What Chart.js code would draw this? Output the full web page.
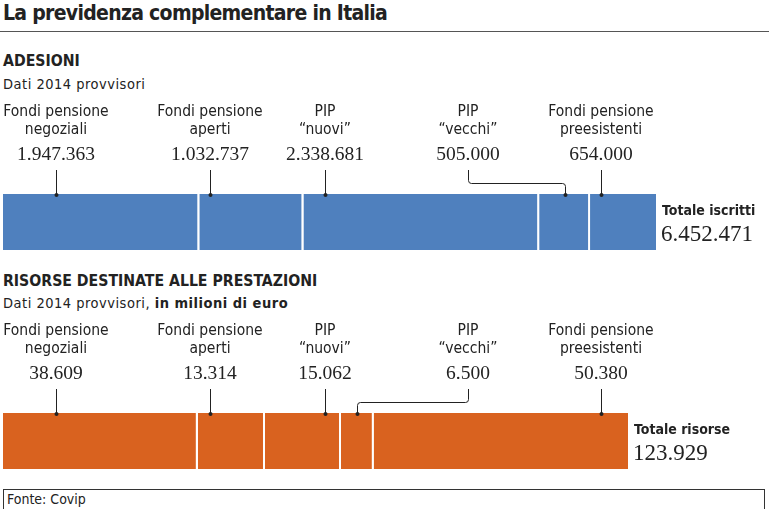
<!DOCTYPE html>
<html>
<head>
<meta charset="utf-8">
<script src="https://cdn.jsdelivr.net/npm/chart.js@4.4.0/dist/chart.umd.min.js"></script>
<style>
  body { margin: 0; background: #fff; width: 769px; height: 509px; overflow: hidden; position: relative; font-family: "DejaVu Sans Condensed", "DejaVu Sans", sans-serif; color: #222; }
  .t { position: absolute; white-space: nowrap; }
  #title { left: 3px; top: 1px; font-size: 21px; font-weight: bold; letter-spacing: -0.7px; }
  #rule { position: absolute; left: 0; top: 31px; width: 769px; height: 1px; background: #555; }
  .sec { font-size: 15.7px; font-weight: bold; }
  .sub { font-size: 14.5px; letter-spacing: 0.5px; }
  .wrap { position: absolute; left: 0; width: 769px; height: 165px; }
  #foot { position: absolute; left: 3px; top: 489px; width: 760px; height: 30px; border: 1px solid #333; }
  #foot span { position: absolute; left: 3px; top: 1px; font-size: 14px; }
</style>
</head>
<body>
<div class="t" id="title">La previdenza complementare in Italia</div>
<div id="rule"></div>
<div class="t sec" style="left:3px;top:51px">ADESIONI</div>
<div class="t sub" style="left:3px;top:76px">Dati 2014 provvisori</div>
<div class="wrap" style="top:95px"><canvas id="adesioni"></canvas></div>
<div class="t sec" style="left:3px;top:271px">RISORSE DESTINATE ALLE PRESTAZIONI</div>
<div class="t sub" style="left:3px;top:295px">Dati 2014 provvisori, <b>in milioni di euro</b></div>
<div class="wrap" style="top:314px"><canvas id="risorse"></canvas></div>
<div id="foot"><span>Fonte: Covip</span></div>
<script>
// ---------- data ----------
const categories = [
    ['Fondi pensione', 'negoziali'],
    ['Fondi pensione', 'aperti'],
    ['PIP', '\u201cnuovi\u201d'],
    ['PIP', '\u201cvecchi\u201d'],
    ['Fondi pensione', 'preesistenti']
];
const adesioniValues = [1947363, 1032737, 2338681, 505000, 654000];
const risorseValues = [38609, 13314, 15062, 6500, 50380];
const totaleIscritti = 6452471;
const totaleRisorse = 123929;

// label columns (pixels)
const columnX = [56, 210, 325, 468, 601];

function fmt(n) {
    return String(n).replace(/\B(?=(\d{3})+(?!\d))/g, '.');
}

const labelPlugin = {
    id: 'labelPlugin',
    afterDatasetsDraw(chart, args, opts) {
        const ctx = chart.ctx;
        const area = chart.chartArea;
        ctx.save();
        ctx.fillStyle = '#222';
        ctx.strokeStyle = '#222';
        ctx.lineWidth = 1;
        ctx.textAlign = 'center';
        ctx.textBaseline = 'middle';
        chart.data.datasets.forEach((ds, i) => {
            const bar = chart.getDatasetMeta(i).data[0];
            const x0 = Math.min(bar.base, bar.x);
            const x1 = Math.max(bar.base, bar.x);
            const cx = columnX[i];
            ctx.font = '15.5px "DejaVu Sans Condensed", sans-serif';
            ctx.fillText(categories[i][0], cx, 17);
            ctx.fillText(categories[i][1], cx, 35);
            ctx.font = '19.5px "Liberation Serif", serif';
            ctx.fillText(fmt(ds.data[0]), cx, 60);

            // leader line: straight if the column falls in the segment, elbow otherwise
            let dotX;
            ctx.beginPath();
            if (cx > x0 + 4 && cx < x1 - 4) {
                dotX = Math.round(cx) + 0.5;
                ctx.moveTo(dotX, 75);
                ctx.lineTo(dotX, area.top);
            } else {
                dotX = Math.round((x0 + x1) / 2) + 0.5;
                const lx = Math.round(cx) + 0.5;
                const ey = 88.5;
                const r = 3;
                const dir = dotX > lx ? 1 : -1;
                ctx.moveTo(lx, 75);
                ctx.lineTo(lx, ey - r);
                ctx.quadraticCurveTo(lx, ey, lx + dir * r, ey);
                ctx.lineTo(dotX - dir * r, ey);
                ctx.quadraticCurveTo(dotX, ey, dotX, ey + r);
                ctx.lineTo(dotX, area.top);
            }
            ctx.stroke();
            ctx.beginPath();
            ctx.arc(dotX, area.top + 1, 2, 0, Math.PI * 2);
            ctx.fill();
        });
        // totale
        ctx.textAlign = 'left';
        ctx.font = 'bold 14px "DejaVu Sans Condensed", sans-serif';
        ctx.fillText(opts.totalLabel, area.right + 6, area.top + 17);
        ctx.font = '23px "Liberation Serif", serif';
        ctx.fillText(fmt(opts.total), area.right + 5, area.top + 41);
        ctx.restore();
    }
};

function makeChart(id, values, color, rightPad, totalLabel, total) {
    const sum = values.reduce((a, b) => a + b, 0);
    return new Chart(document.getElementById(id).getContext('2d'), {
        type: 'bar',
        data: {
            labels: [''],
            datasets: values.map((v, i) => ({
                label: categories[i].join(' '),
                data: [v],
                backgroundColor: color,
                borderColor: '#ffffff',
                borderWidth: i < values.length - 1 ? { top: 0, bottom: 0, left: 0, right: 2 } : 0,
                borderSkipped: false,
                inflateAmount: 0,
                barPercentage: 1,
                categoryPercentage: 1
            }))
        },
        options: {
            indexAxis: 'y',
            responsive: true,
            maintainAspectRatio: false,
            animation: false,
            layout: { padding: { left: 3, right: rightPad, top: 99, bottom: 10 } },
            scales: {
                x: { stacked: true, display: false, min: 0, max: sum },
                y: { stacked: true, display: false }
            },
            plugins: {
                legend: { display: false },
                tooltip: { enabled: false },
                labelPlugin: { totalLabel, total }
            }
        },
        plugins: [labelPlugin]
    });
}

makeChart('adesioni', adesioniValues, '#4f80be', 113, 'Totale iscritti', totaleIscritti);
makeChart('risorse', risorseValues, '#d9621f', 141, 'Totale risorse', totaleRisorse);
</script>
</body>
</html>
